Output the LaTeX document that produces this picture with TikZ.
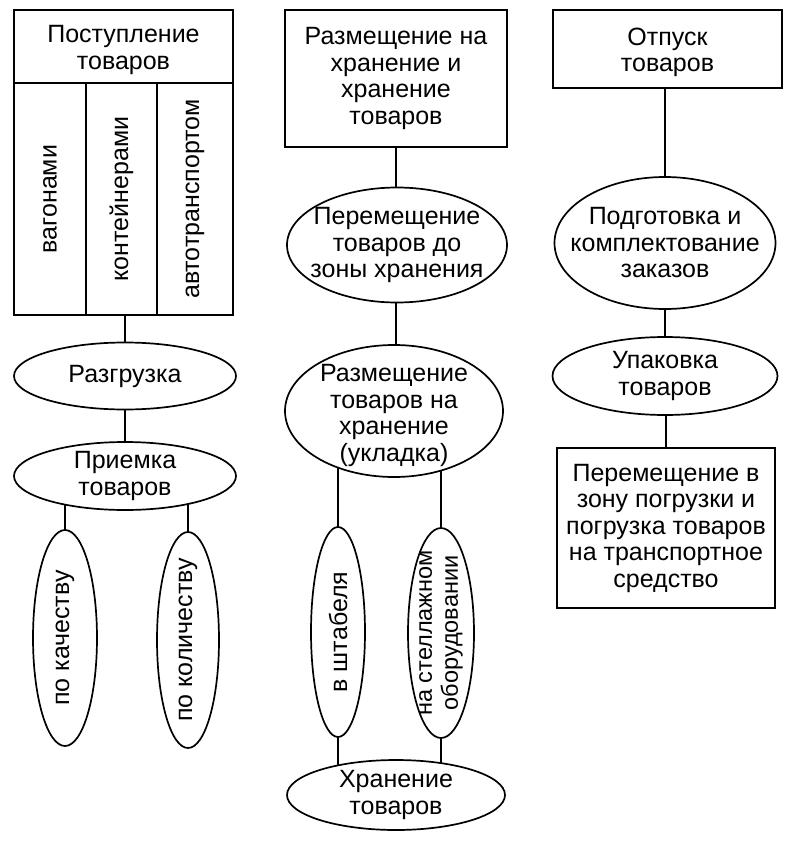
\documentclass[tikz,border=0pt]{standalone}
\usepackage{fontspec}
\setmainfont{Liberation Sans}
\usetikzlibrary{shapes.geometric,backgrounds}
\begin{document}
\begin{tikzpicture}[x=1pt,y=-1pt,
  every node/.style={font=\fontsize{25}{26.5}\selectfont, align=center, inner sep=0pt},
  bx/.style={draw, line width=1.7pt, fill=white},
  el/.style={ellipse, draw, line width=1.7pt, fill=white, inner sep=-45pt},
  ln/.style={line width=1.7pt}]
\useasboundingbox (0,0) rectangle (794,859);
% left column
\node[bx, minimum width=219pt, minimum height=73pt] (h1) at (123.5,46.5) {\rule{0pt}{24pt}Поступление\\товаров};
\node[bx, rotate=90, minimum width=232pt, minimum height=72pt] (c1) at (50,199) {вагонами};
\node[bx, rotate=90, minimum width=232pt, minimum height=71pt] (c2) at (121.5,199) {контейнерами};
\node[bx, rotate=90, minimum width=232pt, minimum height=76pt] (c3) at (195,199) {автотранспортом};
\node[el, minimum width=222pt, minimum height=67pt] (razg) at (125,376) {Разгрузка};
\node[el, minimum width=222pt, minimum height=68pt] (priem) at (125,476) {Приемка\\товаров};
\node[el, rotate=90, minimum width=216pt, minimum height=64pt] (kach) at (65,638) {по качеству};
\node[el, rotate=90, minimum width=216pt, minimum height=62pt] (kol) at (188,640) {по количеству};
% middle column
\node[bx, minimum width=222pt, minimum height=137pt] (b2) at (396,78.5) {Размещение на\\хранение и\\хранение\\товаров};
\node[el, minimum width=220pt, minimum height=115pt] (perem) at (397,245) {Перемещение\\товаров до\\зоны хранения};
\node[el, minimum width=218pt, minimum height=132pt] (razm) at (394,411) {\rule{0pt}{26pt}Размещение\\товаров на\\хранение\\(укладка)};
\node[el, rotate=90, minimum width=210pt, minimum height=54pt] (shtab) at (338,632) {в штабеля};
\node[el, rotate=90, minimum width=210pt, minimum height=66pt, font=\fontsize{23.5}{26}\selectfont] (stell) at (441,633) {на стеллажном\\оборудовании};
\node[el, minimum width=218pt, minimum height=70pt] (hran) at (396,795) {Хранение\\товаров};
% right column
\node[bx, minimum width=229pt, minimum height=78pt] (b3) at (667.5,49) {\rule{0pt}{24pt}Отпуск\\товаров};
\node[el, minimum width=221pt, minimum height=132pt] (podg) at (665,243) {Подготовка и\\комплектование\\заказов};
\node[el, minimum width=225pt, minimum height=78pt] (upak) at (665,376) {Упаковка\\товаров};
\node[bx, minimum width=218pt, minimum height=160pt] (b4) at (666,528) {Перемещение в\\зону погрузки и\\погрузка товаров\\на транспортное\\средство};
\begin{pgfonlayer}{background}
\draw[ln] (razg.center) -- (razg.center |- c2.center);
\draw[ln] (priem.center) -- (razg.center);
\draw[ln] (kach.center) -- (kach.center |- priem.center);
\draw[ln] (kol.center) -- (kol.center |- priem.center);
\draw[ln] (b2.center |- perem.center) -- (b2.center);
\draw[ln] (b2.center |- razm.center) -- (b2.center |- perem.center);
\draw[ln] (shtab.center) -- (shtab.center |- razm.center);
\draw[ln] (stell.center) -- (stell.center |- razm.center);
\draw[ln] (shtab.center) -- (shtab.center |- hran.center);
\draw[ln] (stell.center) -- (stell.center |- hran.center);
\draw[ln] (podg.center) -- (podg.center |- b3.center);
\draw[ln] (upak.center) -- (upak.center |- podg.center);
\draw[ln] (b4.center) -- (b4.center |- upak.center);
\end{pgfonlayer}
\end{tikzpicture}
\end{document}
